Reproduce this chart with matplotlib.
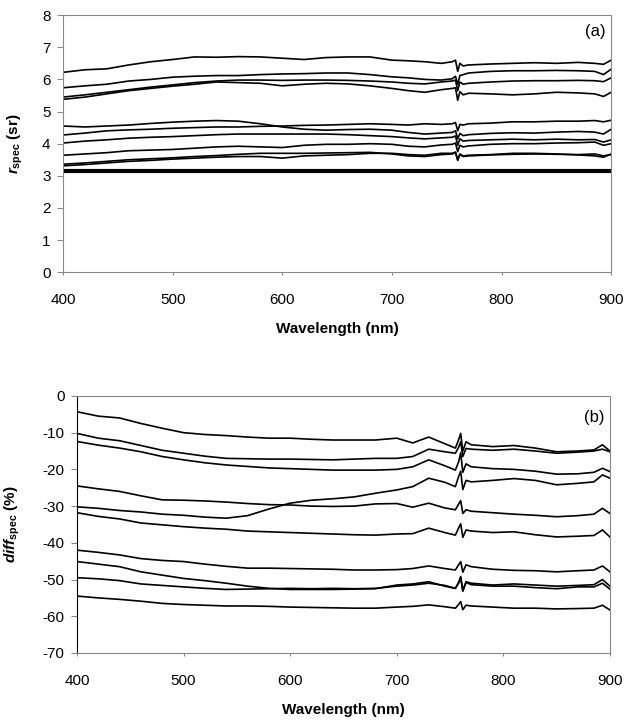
import matplotlib
matplotlib.use('Agg')
import matplotlib.pyplot as plt

plt.rcParams['font.family'] = 'Liberation Sans'
plt.rcParams['axes.unicode_minus'] = False
plt.rcParams['mathtext.fontset'] = 'custom'
plt.rcParams['mathtext.rm'] = 'Liberation Sans:bold'
plt.rcParams['mathtext.it'] = 'Liberation Sans:bold:italic'

# wavelength grid (nm), denser around the O2 A-band at 760 nm
wl = [400, 420, 440, 460, 480, 500, 520, 540, 560, 580, 600, 620, 640, 660, 680,
      700, 715, 730, 745, 755, 758, 760, 762, 765, 770, 790, 810, 830, 850, 870,
      885, 893, 900]

# panel (a): r_spec (sr)
r1 = [6.22, 6.30, 6.33, 6.45, 6.55, 6.62, 6.70, 6.69, 6.71, 6.70, 6.66, 6.62, 6.68, 6.70, 6.70,
      6.60, 6.58, 6.55, 6.50, 6.55, 6.60, 6.25, 6.50, 6.42, 6.45, 6.48, 6.50, 6.52, 6.50, 6.53,
      6.50, 6.47, 6.60]
r2 = [5.74, 5.80, 5.85, 5.95, 6.00, 6.07, 6.10, 6.12, 6.12, 6.15, 6.17, 6.18, 6.20, 6.20, 6.15,
      6.08, 6.05, 6.00, 5.98, 6.02, 6.10, 5.85, 6.12, 6.15, 6.20, 6.25, 6.27, 6.27, 6.28, 6.27,
      6.25, 6.15, 6.32]
r3 = [5.45, 5.52, 5.60, 5.68, 5.76, 5.83, 5.90, 5.95, 5.98, 5.98, 5.97, 5.98, 5.98, 5.97, 5.95,
      5.92, 5.88, 5.86, 5.92, 5.95, 5.98, 5.65, 5.92, 5.85, 5.88, 5.92, 5.95, 5.96, 5.96, 5.97,
      5.96, 5.93, 6.05]
r4 = [5.38, 5.45, 5.55, 5.65, 5.72, 5.79, 5.85, 5.92, 5.90, 5.88, 5.80, 5.85, 5.88, 5.86, 5.80,
      5.72, 5.65, 5.60, 5.68, 5.72, 5.74, 5.35, 5.62, 5.52, 5.57, 5.55, 5.52, 5.55, 5.60, 5.58,
      5.55, 5.47, 5.60]
r5 = [4.55, 4.52, 4.55, 4.58, 4.63, 4.67, 4.70, 4.72, 4.70, 4.62, 4.52, 4.45, 4.42, 4.44, 4.45,
      4.42, 4.35, 4.30, 4.33, 4.35, 4.40, 4.15, 4.32, 4.25, 4.28, 4.32, 4.34, 4.33, 4.36, 4.38,
      4.36, 4.30, 4.45]
r6 = [4.27, 4.33, 4.40, 4.43, 4.45, 4.48, 4.50, 4.52, 4.52, 4.54, 4.55, 4.57, 4.58, 4.60, 4.62,
      4.60, 4.58, 4.62, 4.60, 4.62, 4.66, 4.40, 4.60, 4.58, 4.62, 4.64, 4.68, 4.68, 4.70, 4.70,
      4.72, 4.68, 4.73]
r7 = [4.02, 4.08, 4.12, 4.17, 4.20, 4.22, 4.25, 4.28, 4.30, 4.30, 4.30, 4.30, 4.30, 4.28, 4.25,
      4.22, 4.18, 4.15, 4.18, 4.20, 4.24, 3.95, 4.15, 4.08, 4.10, 4.12, 4.14, 4.12, 4.14, 4.12,
      4.13, 4.05, 4.12]
r8 = [3.64, 3.68, 3.72, 3.78, 3.80, 3.82, 3.86, 3.90, 3.92, 3.90, 3.88, 3.95, 3.98, 3.98, 4.00,
      3.98, 3.92, 3.90, 3.96, 3.98, 4.02, 3.75, 3.95, 3.90, 3.93, 3.98, 4.00, 4.00, 4.02, 4.03,
      4.05, 3.95, 4.00]
r9 = [3.36, 3.40, 3.45, 3.50, 3.53, 3.56, 3.60, 3.63, 3.67, 3.70, 3.70, 3.70, 3.71, 3.72, 3.73,
      3.68, 3.62, 3.60, 3.66, 3.68, 3.72, 3.48, 3.66, 3.60, 3.62, 3.65, 3.67, 3.68, 3.67, 3.66,
      3.68, 3.62, 3.66]
r10 = [3.31, 3.35, 3.40, 3.45, 3.48, 3.52, 3.55, 3.58, 3.60, 3.60, 3.55, 3.62, 3.64, 3.66, 3.70,
       3.70, 3.66, 3.64, 3.70, 3.70, 3.74, 3.50, 3.68, 3.62, 3.64, 3.66, 3.70, 3.70, 3.68, 3.65,
       3.62, 3.58, 3.68]
r_lambert = 3.1416  # thick reference line (pi sr)

# panel (b): diff_spec (%)
d1 = [-4.3, -5.5, -6.0, -7.5, -8.8, -10.0, -10.5, -10.8, -11.2, -11.5, -11.5, -11.8, -12.0, -12.0, -12.0,
      -11.5, -12.8, -11.2, -13.0, -14.2, -12.0, -10.2, -15.0, -12.5, -13.3, -13.8, -13.5, -14.2, -15.2, -15.0,
      -14.7, -13.3, -15.0]
d2 = [-10.2, -11.5, -12.2, -13.5, -14.8, -15.6, -16.4, -17.0, -17.1, -17.2, -17.2, -17.3, -17.4, -17.2, -17.0,
      -17.0, -16.5, -14.5, -15.2, -15.6, -14.0, -12.5, -16.5, -14.3, -14.5, -14.8, -14.5, -15.0, -15.6, -15.3,
      -15.0, -14.5, -15.2]
d3 = [-12.4, -13.4, -14.2, -15.2, -16.5, -17.4, -18.2, -18.8, -19.2, -19.6, -19.8, -20.0, -20.2, -20.2, -20.2,
      -20.0, -19.3, -17.4, -19.0, -20.2, -18.0, -15.5, -20.8, -18.5, -19.3, -19.8, -20.0, -20.5, -21.3, -21.2,
      -20.8, -19.7, -20.6]
d4 = [-24.5, -25.3, -26.0, -27.2, -28.3, -28.4, -28.6, -28.9, -29.3, -29.6, -29.7, -30.0, -30.1, -30.0, -29.4,
      -29.3, -30.3, -29.2, -30.5, -31.0, -29.5, -28.5, -32.0, -31.0, -31.4, -31.8, -32.2, -32.5, -32.9, -32.6,
      -32.2, -30.6, -32.0]
d5 = [-30.2, -30.6, -31.2, -31.6, -32.2, -32.5, -33.0, -33.3, -32.6, -30.8, -29.2, -28.4, -28.0, -27.5, -26.5,
      -25.6, -24.7, -22.4, -23.5, -24.7, -22.0, -20.5, -25.5, -23.0, -23.4, -23.0, -22.5, -23.0, -24.2, -23.8,
      -23.4, -21.5, -22.4]
d6 = [-31.8, -32.8, -33.5, -34.6, -35.1, -35.6, -36.0, -36.3, -36.8, -37.0, -37.2, -37.4, -37.6, -37.8, -37.9,
      -37.6, -37.5, -36.0, -37.2, -37.9, -36.0, -34.8, -38.5, -36.5, -36.8, -37.2, -37.0, -37.8, -38.4, -38.2,
      -38.0, -36.5, -38.4]
d7 = [-42.0, -42.6, -43.3, -44.3, -44.8, -45.1, -45.8, -46.4, -46.9, -46.9, -47.0, -47.1, -47.2, -47.4, -47.4,
      -47.3, -47.0, -46.3, -47.0, -47.4, -46.0, -45.1, -48.0, -46.0, -46.5, -47.2, -47.5, -47.6, -47.9, -47.6,
      -47.4, -46.3, -47.9]
d8 = [-45.1, -45.8, -46.5, -47.9, -48.8, -49.7, -50.3, -51.0, -51.8, -52.4, -52.7, -52.7, -52.7, -52.6, -52.5,
      -51.5, -51.2, -50.6, -51.8, -52.4, -51.0, -49.2, -53.0, -50.6, -51.0, -51.5, -51.2, -51.5, -51.8, -51.6,
      -51.4, -50.0, -51.8]
d9 = [-49.5, -49.8, -50.3, -51.2, -51.6, -52.0, -52.4, -52.7, -52.6, -52.5, -52.4, -52.5, -52.4, -52.5, -52.4,
      -51.8, -51.5, -51.0, -51.6, -52.4, -50.8, -49.5, -53.2, -50.8, -51.4, -51.8, -51.8, -52.2, -52.5, -52.0,
      -52.0, -51.0, -52.6]
d10 = [-54.5, -55.0, -55.4, -55.9, -56.5, -56.8, -57.0, -57.2, -57.2, -57.3, -57.5, -57.6, -57.7, -57.8, -57.8,
       -57.5, -57.3, -56.9, -57.4, -57.8, -56.8, -56.0, -58.2, -57.0, -57.2, -57.5, -57.8, -57.8, -58.0, -57.9,
       -57.8, -57.0, -58.3]

r_series = [r1, r2, r3, r4, r5, r6, r7, r8, r9, r10]
d_series = [d1, d2, d3, d4, d5, d6, d7, d8, d9, d10]

fig = plt.figure(figsize=(6.36, 7.22), dpi=100)
ax1 = fig.add_axes([0.099, 0.623, 0.862, 0.356])
ax2 = fig.add_axes([0.121, 0.0956, 0.838, 0.356])


def style(ax):
    for side in ['top', 'right', 'bottom', 'left']:
        ax.spines[side].set_linestyle((0, (1, 1)))
        ax.spines[side].set_color('#888888')
        ax.spines[side].set_linewidth(0.8)
    ax.tick_params(axis='x', direction='out', length=2, color='#888888', pad=13, labelsize=11)
    ax.tick_params(axis='y', direction='out', length=4, color='#888888', pad=5, labelsize=11)
    ax.set_xlim(400, 900)
    ax.set_xticks([400, 500, 600, 700, 800, 900])
    ax.set_xlabel('Wavelength (nm)', fontsize=11, fontweight='bold', labelpad=11)


# (a)
for s in r_series:
    ax1.plot(wl, s, color='black', lw=1.2)
ax1.plot([wl[0], wl[-1]], [r_lambert, r_lambert], color='black', lw=3)
style(ax1)
ax1.set_ylim(0, 8)
ax1.set_yticks(range(0, 9))
ax1.set_ylabel(r'$r_{\mathrm{spec}}$ (sr)', fontsize=11, fontweight='bold')
ax1.yaxis.set_label_coords(-0.069, 0.5)
ax1.text(0.99, 0.935, '(a)', transform=ax1.transAxes, ha='right', va='center', fontsize=12)

# (b)
for s in d_series:
    ax2.plot(wl, s, color='black', lw=1.2)
style(ax2)
ax2.spines['left'].set_linestyle('-')
ax2.spines['left'].set_color('black')
ax2.set_ylim(-70, 0)
ax2.set_yticks(range(-70, 1, 10))
ax2.set_ylabel(r'$diff_{\mathrm{spec}}$ (%)', fontsize=11, fontweight='bold')
ax2.yaxis.set_label_coords(-0.103, 0.5)
ax2.text(0.99, 0.918, '(b)', transform=ax2.transAxes, ha='right', va='center', fontsize=12)

fig.savefig('out.png', dpi=100)
